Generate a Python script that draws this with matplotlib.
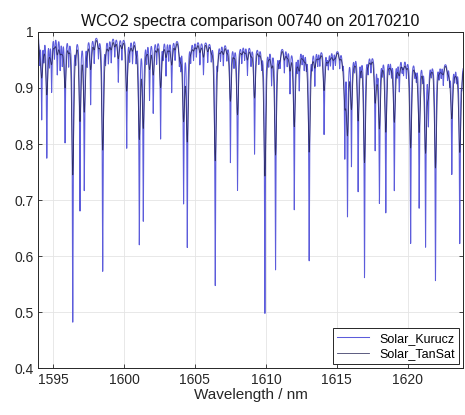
import numpy as np
import matplotlib
matplotlib.use("Agg")
import matplotlib.pyplot as plt

plt.rcParams['font.family'] = ['Liberation Sans', 'DejaVu Sans']

# ---- data ----
# continuum level (wavelength nm, relative radiance)
cont_wl = [1594, 1597, 1600, 1603, 1606, 1609, 1612, 1615, 1618, 1621, 1624]
cont_val = [1.005, 1.0, 0.996, 0.994, 0.988, 0.981, 0.977, 0.972, 0.965, 0.955, 0.945]

# absorption line centres (nm) and the minimum value reached at each line
line_wl = [1594.2, 1594.56, 1594.9, 1595.3, 1595.85, 1596.39, 1596.9, 1597.2,
           1597.65, 1598.5, 1599.1, 1599.6, 1600.19, 1601.08, 1601.36, 1601.8,
           1602.06, 1602.58, 1602.96, 1603.36, 1603.9, 1604.2, 1604.46, 1605.35,
           1605.6, 1606.43, 1607.0, 1607.5, 1608.0, 1608.7, 1609.2, 1609.93,
           1610.4, 1610.68, 1611.3, 1611.7, 1612.0, 1612.35, 1613.05, 1613.45,
           1614.1, 1614.74, 1615.56, 1615.75, 1616.03, 1616.5, 1616.95, 1617.7,
           1618.0, 1618.45, 1619.05, 1619.4, 1620.2, 1620.8, 1621.25, 1621.45,
           1621.95, 1622.5, 1623.1, 1623.66]
line_min = [0.85, 0.78, 0.90, 0.93, 0.807, 0.483, 0.686, 0.723,
            0.875, 0.575, 0.95, 0.914, 0.795, 0.625, 0.668, 0.885,
            0.86, 0.813, 0.927, 0.896, 0.95, 0.70, 0.62, 0.945,
            0.927, 0.548, 0.945, 0.77, 0.72, 0.927, 0.785, 0.498,
            0.914, 0.578, 0.932, 0.896, 0.686, 0.902, 0.593, 0.909,
            0.82, 0.938, 0.784, 0.677, 0.766, 0.72, 0.563, 0.795,
            0.70, 0.68, 0.72, 0.90, 0.625, 0.69, 0.62, 0.843,
            0.557, 0.91, 0.75, 0.625]

# weak lines that make the ragged top edge
weak_wl = [1594.05, 1594.35, 1594.75, 1595.1, 1595.5, 1595.65, 1596.1, 1596.6,
           1597.4, 1597.9, 1598.2, 1598.7, 1598.9, 1599.35, 1599.85, 1600.4,
           1600.6, 1600.85, 1601.6, 1602.3, 1602.75, 1603.15, 1603.6, 1604.0,
           1604.7, 1604.9, 1605.1, 1605.9, 1606.15, 1606.6, 1606.8, 1607.25,
           1607.75, 1608.3, 1608.5, 1608.95, 1609.5, 1609.7, 1610.2, 1610.9,
           1611.0, 1611.5, 1612.2, 1612.55, 1612.7, 1612.85, 1613.25, 1613.65,
           1613.8, 1614.3, 1614.4, 1614.55, 1614.9, 1615.2, 1615.4, 1616.25,
           1616.7, 1617.2, 1617.4, 1617.85, 1618.2, 1618.7, 1618.85, 1619.25,
           1619.6, 1619.7, 1619.9, 1620.5, 1620.6, 1621.05, 1621.65, 1622.2,
           1622.35, 1622.8, 1622.95, 1623.3, 1623.45, 1623.8]
weak_min = [0.95, 0.96, 0.95, 0.96, 0.94, 0.95, 0.95, 0.96,
            0.95, 0.95, 0.96, 0.955, 0.95, 0.96, 0.955, 0.955,
            0.95, 0.955, 0.955, 0.95, 0.96, 0.955, 0.955, 0.945,
            0.955, 0.955, 0.96, 0.95, 0.955, 0.95, 0.955, 0.955,
            0.945, 0.95, 0.955, 0.945, 0.95, 0.945, 0.95, 0.95,
            0.945, 0.945, 0.94, 0.95, 0.94, 0.945, 0.945, 0.945,
            0.945, 0.95, 0.94, 0.945, 0.945, 0.94, 0.945, 0.94,
            0.935, 0.935, 0.935, 0.93, 0.935, 0.935, 0.93, 0.93,
            0.935, 0.93, 0.925, 0.93, 0.925, 0.925, 0.93, 0.925,
            0.925, 0.92, 0.915, 0.92, 0.92, 0.915]

series_names = ['Solar_Kurucz', 'Solar_TanSat']

# ---- build spectra from the read line list ----
wl = np.arange(1593.9, 1624.0, 0.004)
cont = np.interp(wl, cont_wl, cont_val)
gamma = 0.035
trans = np.ones_like(wl)
for c, m in zip(line_wl + weak_wl, line_min + weak_min):
    cc = np.interp(c, cont_wl, cont_val)
    d = 1 - m / cc
    trans *= 1 - d * gamma**2 / ((wl - c)**2 + gamma**2)
kurucz = cont * trans

# TanSat: same lines seen at instrument resolution
sig = 0.06
k = np.arange(-80, 81) * 0.004
ker = np.exp(-0.5 * (k / sig)**2)
ker /= ker.sum()
pad = np.pad(kurucz, 80, mode='edge')
tansat = np.convolve(pad, ker, mode='same')[80:-80]

# ---- plot ----
fig = plt.figure(figsize=(4.65, 4.15), dpi=100)
ax = fig.add_axes([0.082, 0.113, 0.914, 0.81])
ax.plot(wl, kurucz, color=(0.36, 0.36, 0.86), lw=0.75, label=series_names[0])
ax.plot(wl, tansat, color=(0.13, 0.13, 0.32), lw=0.6, alpha=0.85,
        label=series_names[1])

ax.set_xlim(1593.95, 1623.9)
ax.set_ylim(0.4, 1.0)
ax.set_xticks([1595, 1600, 1605, 1610, 1615, 1620])
ax.set_yticks([0.4, 0.5, 0.6, 0.7, 0.8, 0.9, 1.0])
ax.set_yticklabels(['0.4', '0.5', '0.6', '0.7', '0.8', '0.9', '1'])
ax.grid(True, color='#e4e4e4', lw=0.6)
ax.set_axisbelow(True)
ax.tick_params(direction='in', top=True, right=True, length=3, width=0.6,
               labelsize=10, colors='#262626')
for s in ax.spines.values():
    s.set_color('#262626')
    s.set_linewidth(0.7)
ax.set_title('WCO2 spectra comparison 00740 on 20170210', fontsize=11.5,
             color='#111111', pad=4)
ax.set_xlabel('Wavelength / nm', fontsize=11, color='#262626', labelpad=1)
leg = ax.legend(loc='lower right', fontsize=9, frameon=True, fancybox=False,
                edgecolor='#262626', framealpha=1, borderpad=0.35,
                handlelength=2.6, labelspacing=0.25, borderaxespad=0.3)
leg.get_frame().set_linewidth(0.7)
fig.savefig('out.png', dpi=100)
